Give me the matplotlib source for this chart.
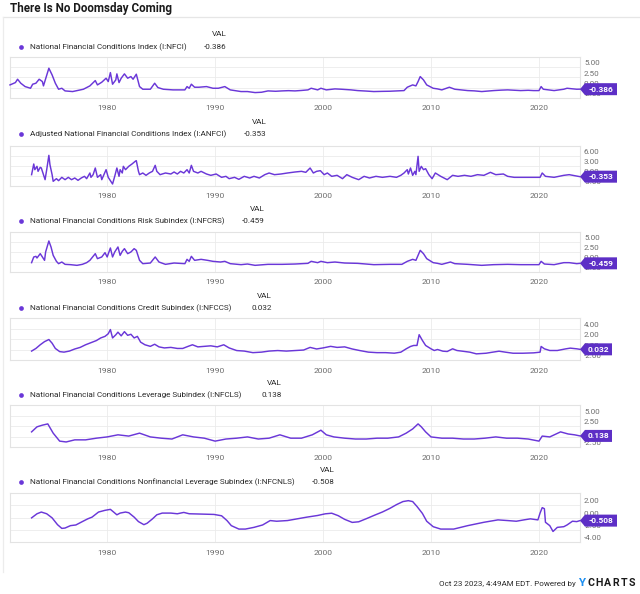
import matplotlib
matplotlib.use('Agg')
import matplotlib.pyplot as plt
import matplotlib.transforms as mtransforms
from matplotlib.patches import Polygon
from matplotlib.lines import Line2D

plt.rcParams['font.family'] = ['Roboto', 'DejaVu Sans']

TITLE = 'There Is No Doomsday Coming'
FOOTER = 'Oct 23 2023, 4:49AM EDT. Powered by'
YEAR_TICKS = [1980, 1990, 2000, 2010, 2020]
X_MIN, X_MAX = 1971.0, 2023.8

# ---------------- data (decimal years, index values) ----------------
nfci_name = 'National Financial Conditions Index (I:NFCI)'
nfci_last = '-0.386'
nfci_x = [1971.0, 1971.5, 1971.7, 1972.0, 1972.4, 1972.9, 1973.1, 1973.4, 1973.7, 1974.0,
          1974.1, 1974.6, 1974.9, 1975.2, 1975.5, 1975.8, 1976.1, 1976.8, 1977.8, 1978.4,
          1978.9, 1979.1, 1979.5, 1979.9, 1980.1, 1980.3, 1980.5, 1980.8, 1980.9, 1981.1,
          1981.3, 1981.6, 1981.9, 1982.2, 1982.4, 1982.7, 1983.0, 1983.3, 1984.0, 1984.4,
          1984.7, 1985.2, 1986.1, 1987.2, 1987.4, 1987.6, 1987.8, 1988.1, 1988.5, 1989.2,
          1989.8, 1990.3, 1990.9, 1991.4, 1992.4, 1993.0, 1993.7, 1994.3, 1994.9, 1995.6,
          1996.2, 1996.8, 1997.4, 1998.0, 1998.6, 1998.9, 1999.5, 1999.8, 2000.3, 2001.1,
          2001.7, 2002.6, 2003.2, 2004.0, 2004.7, 2005.5, 2006.2, 2007.5, 2007.8, 2008.3,
          2008.6, 2008.8, 2009.0, 2009.3, 2009.6, 2010.2, 2010.6, 2011.0, 2011.7, 2012.2,
          2013.4, 2014.0, 2014.7, 2015.8, 2016.5, 2017.1, 2018.3, 2019.0, 2019.5, 2020.0,
          2020.2, 2020.4, 2021.4, 2022.3, 2022.6, 2023.1, 2023.5, 2023.8]
nfci_y = [0.66, 1.23, 2.05, 1.07, 0.25, -0.16, 0.83, 1.07, 2.05, 1.48,
          0.42, 4.75, 3.11, 1.07, -0.40, -0.16, -0.81, -0.97, -0.40, 0.42,
          1.72, 0.66, 1.32, 2.30, 1.48, 3.68, 0.83, 1.89, 3.36, 1.23,
          2.30, 3.36, 2.30, 2.70, 2.05, 3.28, 0.25, -0.40, -0.40, 1.07,
          0.01, -0.40, -0.56, -0.56, 0.25, -0.16, 0.83, 0.09, 0.09, 0.25,
          -0.16, -0.16, 0.25, -0.56, -0.97, -0.97, -1.22, -1.14, -0.81, -0.90,
          -0.81, -0.75, -0.81, -0.70, -0.56, -0.16, -0.56, -0.16, -0.56, -0.32,
          -0.40, -0.56, -0.73, -0.85, -0.97, -0.92, -0.89, -0.73, 0.09, 0.66,
          0.42, 1.48, 2.70, 1.89, 0.66, -0.16, -0.32, -0.56, 0.09, -0.40,
          -0.73, -0.80, -0.97, -0.73, -0.62, -0.56, -0.73, -0.66, -0.73, -0.73,
          0.25, -0.40, -0.73, -0.40, -0.16, -0.30, -0.40, -0.386]

anfci_name = 'Adjusted National Financial Conditions Index (I:ANFCI)'
anfci_last = '-0.353'
anfci_x = [1973.0, 1973.2, 1973.3, 1973.5, 1973.6, 1973.8, 1973.9, 1974.1, 1974.25, 1974.4,
           1974.6, 1974.7, 1974.9, 1975.0, 1975.3, 1975.5, 1975.8, 1976.1, 1976.4, 1976.7,
           1977.0, 1977.3, 1977.6, 1977.9, 1978.1, 1978.4, 1978.5, 1978.7, 1978.9, 1979.1,
           1979.4, 1979.5, 1979.7, 1979.9, 1980.1, 1980.3, 1980.5, 1980.7, 1980.9, 1981.1,
           1981.2, 1981.4, 1981.5, 1981.7, 1982.0, 1982.3, 1982.6, 1982.7, 1982.9, 1983.0,
           1983.3, 1983.6, 1983.9, 1984.2, 1984.45, 1984.6, 1984.9, 1985.4, 1985.9, 1986.2,
           1986.5, 1986.8, 1987.1, 1987.4, 1987.6, 1987.8, 1988.0, 1988.4, 1988.7, 1989.2,
           1989.6, 1990.1, 1990.6, 1991.0, 1991.3, 1991.8, 1992.2, 1992.7, 1993.2, 1993.6,
           1994.1, 1994.6, 1995.0, 1995.5, 1996.1, 1996.7, 1997.4, 1998.0, 1998.4, 1998.8,
           1999.1, 1999.4, 1999.75, 2000.1, 2000.4, 2000.8, 2001.3, 2001.8, 2002.2, 2002.7,
           2003.3, 2003.8, 2004.3, 2004.9, 2005.5, 2006.2, 2006.8, 2007.2, 2007.5, 2007.8,
           2007.9, 2008.1, 2008.3, 2008.5, 2008.6, 2008.8, 2008.9, 2009.1, 2009.3, 2009.5,
           2009.8, 2010.1, 2010.4, 2010.9, 2011.5, 2012.0, 2012.5, 2013.1, 2013.7, 2014.3,
           2014.9, 2015.5, 2016.0, 2016.7, 2017.1, 2017.7, 2018.7, 2019.6, 2020.1, 2020.3,
           2020.6, 2021.4, 2022.3, 2022.8, 2023.6, 2023.8]
anfci_y = [0.25, 3.45, 1.75, 2.75, 1.25, 2.45, 2.25, 0.25, -1.25, 1.75,
           6.05, 3.25, 0.25, -1.75, -0.95, -1.55, -0.55, -1.25, -0.55, -1.25,
           -0.75, -1.45, -0.75, -0.25, -0.95, 0.75, -0.55, 0.25, 2.25, -0.55,
           0.25, -1.25, 0.25, 1.75, -0.55, -1.55, -2.55, -0.25, 2.25, -0.25,
           1.75, 0.75, 2.75, 1.75, 2.75, 3.45, 4.25, 4.45, 1.25, 0.25,
           0.75, 0.05, 0.75, 1.25, 3.05, 1.25, 0.25, 0.75, 0.45, 1.05,
           0.45, 1.25, 0.75, 1.75, 0.75, 3.05, 1.25, 0.75, 1.25, 0.45,
           0.05, 0.45, -0.55, -0.25, -0.95, -0.55, -1.15, -0.25, -0.75, -0.25,
           -0.75, 0.25, 0.75, 0.25, 0.45, 0.75, 1.05, 1.25, 0.95, 2.25,
           0.75, 1.25, 1.45, 0.25, 0.75, -0.25, 0.05, -0.95, 0.25, -0.55,
           -1.25, -0.25, -0.75, -0.25, -0.55, -0.25, -0.55, 0.05, 0.75, 1.75,
           0.45, 2.25, 0.05, 1.25, 0.25, 5.75, 1.25, 2.75, 1.75, 2.05,
           0.25, -0.95, 0.75, -0.25, -1.25, 0.05, -0.25, 0.05, -0.25, 0.25,
           0.05, 0.95, 0.25, 0.45, -0.25, -0.55, -0.55, -0.55, -0.55, 0.75,
           -0.25, -0.55, 0.05, 0.25, -0.25, -0.353]

nfcrs_name = 'National Financial Conditions Risk Subindex (I:NFCRS)'
nfcrs_last = '-0.459'
nfcrs_x = [1973.0, 1973.2, 1973.4, 1973.5, 1973.8, 1974.0, 1974.2, 1974.3, 1974.6, 1974.8,
           1975.0, 1975.3, 1975.5, 1975.8, 1976.1, 1976.6, 1977.2, 1977.7, 1978.1, 1978.4,
           1978.9, 1979.1, 1979.5, 1979.8, 1980.0, 1980.3, 1980.5, 1980.7, 1981.0, 1981.2,
           1981.4, 1981.6, 1981.9, 1982.2, 1982.5, 1982.7, 1983.0, 1983.3, 1984.0, 1984.45,
           1984.8, 1985.4, 1986.2, 1987.2, 1987.4, 1987.6, 1987.8, 1988.1, 1988.7, 1989.3,
           1989.8, 1990.5, 1990.9, 1991.4, 1992.4, 1993.0, 1993.7, 1994.9, 1996.2, 1997.4,
           1998.6, 1998.9, 1999.5, 1999.8, 2000.4, 2001.1, 2002.0, 2003.2, 2004.7, 2006.2,
           2007.3, 2007.8, 2008.3, 2008.6, 2008.8, 2009.0, 2009.3, 2009.6, 2010.2, 2010.6,
           2011.0, 2011.8, 2012.2, 2013.4, 2014.7, 2015.8, 2017.1, 2018.3, 2019.5, 2020.0,
           2020.2, 2020.5, 2021.4, 2022.3, 2022.8, 2023.5, 2023.8]
nfcrs_y = [-0.29, 1.13, 1.29, 0.88, 1.96, 1.13, 0.29, 2.38, 5.13, 3.63,
           1.54, 0.04, -0.54, -0.13, -0.71, -0.79, -0.96, -0.71, -0.29, 0.29,
           1.96, 0.71, 1.13, 2.21, 1.13, 3.38, 1.13, 2.38, 3.63, 1.54,
           2.54, 3.21, 1.96, 2.38, 3.21, 2.79, 0.29, -0.54, -0.38, 1.13,
           -0.13, -0.71, -0.38, -0.54, 0.54, 0.04, 1.29, 0.29, 0.54, 0.29,
           0.04, -0.13, 0.04, -0.54, -0.79, -0.63, -0.96, -0.71, -0.71, -0.63,
           -0.46, 0.04, -0.29, 0.04, -0.29, -0.13, -0.38, -0.46, -0.79, -0.71,
           -0.71, 0.04, 0.54, 0.29, 1.54, 2.79, 1.96, 0.71, -0.29, -0.46,
           -0.71, -0.13, -0.54, -0.71, -0.96, -0.79, -0.71, -0.79, -0.79, -0.79,
           0.04, -0.63, -0.79, -0.29, -0.29, -0.54, -0.459]

nfccs_name = 'National Financial Conditions Credit Subindex (I:NFCCS)'
nfccs_last = '0.032'
nfccs_x = [1973.0, 1973.4, 1973.8, 1974.2, 1974.6, 1974.9, 1975.2, 1975.6, 1976.0, 1976.5,
           1977.0, 1977.5, 1978.0, 1978.5, 1979.0, 1979.4, 1979.8, 1980.1, 1980.3, 1980.5,
           1980.8, 1981.0, 1981.3, 1981.6, 1981.9, 1982.2, 1982.5, 1982.8, 1983.1, 1983.5,
           1984.0, 1984.4, 1984.8, 1985.3, 1985.9, 1986.5, 1987.0, 1987.5, 1987.9, 1988.4,
           1989.0, 1989.6, 1990.2, 1990.8, 1991.3, 1992.0, 1992.7, 1993.5, 1994.3, 1995.0,
           1995.8, 1996.6, 1997.4, 1998.2, 1998.8, 1999.4, 2000.0, 2000.7, 2001.3, 2002.0,
           2002.7, 2003.4, 2004.2, 2005.0, 2005.8, 2006.6, 2007.2, 2007.7, 2008.1, 2008.4,
           2008.7, 2008.9, 2009.2, 2009.5, 2010.0, 2010.3, 2010.6, 2011.1, 2011.5, 2012.0,
           2012.4, 2012.9, 2013.6, 2014.2, 2015.1, 2015.7, 2016.3, 2016.9, 2017.6, 2018.5,
           2019.5, 2020.1, 2020.2, 2020.5, 2021.0, 2021.7, 2022.5, 2022.9, 2023.5, 2023.8]
nfccs_y = [-0.3, 0.2, 0.9, 1.5, 1.9, 1.2, 0.2, -0.4, -0.5, -0.3,
           0.1, 0.4, 0.9, 1.3, 1.7, 2.2, 2.5, 3.0, 3.8, 2.2,
           2.8, 3.3, 2.6, 3.4, 2.7, 2.9, 2.2, 2.5, 1.4, 0.9,
           0.6, 1.0, 0.5, 0.3, 0.4, 0.2, 0.2, 0.6, 0.9, 0.5,
           0.6, 0.7, 0.5, 0.9, 0.3, -0.2, -0.3, -0.6, -0.5, -0.3,
           -0.2, -0.3, -0.2, -0.1, 0.4, 0.1, 0.3, 0.6, 0.4, 0.5,
           0.1, -0.2, -0.5, -0.6, -0.6, -0.7, -0.51, 0.13, 0.58, 0.77,
           0.77, 2.82, 1.73, 0.77, 0.13, -0.19, 0.0, -0.32, -0.38, 0.13,
           -0.19, -0.32, -0.51, -0.83, -0.71, -0.51, -0.32, -0.51, -0.71, -0.71,
           -0.64, -0.51, 0.58, 0.13, -0.19, -0.19, 0.13, 0.26, 0.13, 0.032]

nfcls_name = 'National Financial Conditions Leverage Subindex (I:NFCLS)'
nfcls_last = '0.138'
nfcls_x = [1973.0, 1973.5, 1974.0, 1974.5, 1975.0, 1975.6, 1976.2, 1977.0, 1978.0, 1979.0,
           1980.0, 1981.0, 1982.0, 1983.0, 1984.0, 1985.0, 1986.0, 1987.0, 1988.0, 1989.0,
           1990.0, 1991.0, 1992.0, 1993.0, 1994.0, 1995.0, 1996.0, 1997.0, 1998.0, 1999.0,
           1999.8, 2000.3, 2001.0, 2002.0, 2003.0, 2004.0, 2005.0, 2006.0, 2007.0, 2007.7,
           2008.3, 2008.8, 2009.1, 2009.5, 2010.0, 2011.0, 2012.0, 2013.0, 2014.0, 2015.0,
           2016.0, 2017.0, 2018.0, 2019.0, 2020.0, 2020.3, 2021.0, 2022.0, 2022.7, 2023.3,
           2023.8]
nfcls_y = [1.1, 2.3, 2.7, 3.0, 0.8, -1.1, -1.3, -0.8, -0.8, -0.4,
           -0.1, 0.4, 0.1, 0.8, -0.1, -0.4, -0.6, 0.4, -0.1, -0.4,
           -1.1, -0.6, -0.4, -0.1, -0.6, -0.4, 0.4, -0.4, -0.4, 0.4,
           1.5, 0.4, -0.1, -0.4, -0.6, -0.6, -0.4, -0.4, -0.1, 0.8,
           1.8, 3.0, 2.3, 1.1, -0.1, -0.4, -0.4, -0.6, -0.6, -0.4,
           -0.1, -0.4, -0.4, -0.6, -1.1, 0.1, -0.1, 1.1, 0.6, 0.4,
           0.138]

nfcnls_name = 'National Financial Conditions Nonfinancial Leverage Subindex (I:NFCNLS)'
nfcnls_last = '-0.508'
nfcnls_x = [1973.0, 1973.5, 1973.9, 1974.4, 1974.9, 1975.4, 1975.8, 1976.1, 1976.6, 1977.1,
            1977.7, 1978.2, 1978.6, 1979.2, 1979.8, 1980.3, 1980.6, 1980.9, 1981.2, 1981.7,
            1982.0, 1982.5, 1982.9, 1983.4, 1983.7, 1984.2, 1984.6, 1985.1, 1985.9, 1986.5,
            1987.1, 1987.6, 1988.7, 1989.9, 1990.6, 1991.1, 1991.5, 1992.2, 1992.8, 1993.6,
            1994.4, 1995.1, 1995.7, 1996.7, 1997.6, 1998.5, 1999.5, 2000.2, 2000.8, 2001.4,
            2002.0, 2002.7, 2003.3, 2004.0, 2004.8, 2005.5, 2006.2, 2006.8, 2007.4, 2007.9,
            2008.3, 2008.7, 2009.2, 2009.6, 2010.2, 2010.9, 2012.1, 2013.4, 2014.9, 2016.2,
            2017.1, 2017.9, 2018.6, 2019.2, 2019.9, 2020.1, 2020.3, 2020.5, 2020.6, 2021.0,
            2021.3, 2021.7, 2022.3, 2022.6, 2023.1, 2023.5, 2023.8]
nfcnls_y = [-0.06, 0.61, 0.89, 0.61, -0.06, -1.17, -1.78, -1.72, -1.33, -1.22,
            -0.67, -0.22, 0.06, 0.89, 1.17, 1.33, 0.89, 0.44, 0.72, 0.89,
            0.78, 0.06, -0.67, -1.17, -0.94, -0.22, 0.44, 0.72, 0.72, 0.61,
            0.83, 0.61, 0.56, 0.50, 0.28, -0.50, -1.33, -1.89, -1.89, -1.61,
            -1.22, -0.50, -0.61, -0.50, -0.22, 0.06, 0.33, 0.60, 0.70, 0.30,
            -0.30, -0.80, -0.70, -0.20, 0.40, 0.90, 1.50, 2.10, 2.60, 2.75,
            2.60, 1.80, 0.67, -0.61, -1.50, -1.89, -1.89, -1.33, -0.78, -0.39,
            -0.50, -0.61, -0.39, -0.22, -0.39, 0.72, 1.61, 1.44, -0.78, -1.33,
            -2.28, -1.61, -1.50, -1.22, -0.61, -0.67, -0.508]

# ---------------- styling / layout ----------------
W, H = 640, 594
LINE = '#6a37d8'
FLAG = '#5d2fc6'
GRID = '#ebebeb'
FRAME = '#e3e3e3'
TXT = '#2b2b2b'
TICK = '#6e6e6e'
FS_LEG = 5.9
FS_TICK = 6.1
FS_YTICK = 5.8

fig = plt.figure(figsize=(W / 100, H / 100), dpi=100)
fig.patch.set_facecolor('white')


def fx(x):
    return x / W


def fy(y):
    return 1 - y / H


# title, separator and left rule
fig.text(fx(10), fy(8.5), TITLE, fontsize=8.4, fontweight='bold', color='#1a1a1a',
         ha='left', va='center')
fig.add_artist(Line2D([fx(3), fx(640)], [fy(17), fy(17)], color='#e6e6e6', lw=0.9))
fig.add_artist(Line2D([fx(3), fx(3)], [fy(17), fy(572)], color='#ececec', lw=0.9))

panels = [
    (nfci_name, nfci_last, nfci_x, nfci_y, (-2.5, 7.5), [-2.5, 0, 2.5, 5], 57, 97.8, 47, 34),
    (anfci_name, anfci_last, anfci_x, anfci_y, (-3, 9), [-3, 0, 3, 6], 145.5, 185.5, 134, 122),
    (nfcrs_name, nfcrs_last, nfcrs_x, nfcrs_y, (-2.5, 7.5), [-2.5, 0, 2.5, 5], 231.5, 271.5, 221, 209),
    (nfccs_name, nfccs_last, nfccs_x, nfccs_y, (-2, 6), [-2, 0, 2, 4], 318, 360, 308, 296),
    (nfcls_name, nfcls_last, nfcls_x, nfcls_y, (-2.5, 7.5), [-2.5, 0, 2.5, 5], 405, 447, 395, 383),
    (nfcnls_name, nfcnls_last, nfcnls_x, nfcnls_y, (-4, 4), [-4, -2, 0, 2], 493, 542, 482, 470),
]

renderer = fig.canvas.get_renderer()
LEFT, RIGHT = 10, 580

for name, last, xs, ys, ylim, yticks, top, bot, row_y, val_y in panels:
    ax = fig.add_axes([fx(LEFT), fy(bot), (RIGHT - LEFT) / W, (bot - top) / H])
    ax.set_xlim(X_MIN, X_MAX)
    ax.set_ylim(*ylim)
    for s in ax.spines.values():
        s.set_color(FRAME)
        s.set_linewidth(0.8)
    ax.set_xticks(YEAR_TICKS)
    ax.set_xticklabels([str(t) for t in YEAR_TICKS])
    ax.set_yticks(yticks)
    ax.set_yticklabels([])
    ax.tick_params(axis='x', length=0, pad=5.5, labelsize=FS_TICK, labelcolor=TICK)
    ax.tick_params(axis='y', length=0)
    ax.grid(True, color=GRID, lw=0.6)
    ax.set_axisbelow(True)
    ax.plot(xs, ys, color=LINE, lw=1.05, solid_joinstyle='round', clip_on=False, zorder=3)

    blend = mtransforms.blended_transform_factory(ax.transAxes, ax.transData)
    for t in yticks:
        ax.text(1.0, t, f'{t:.2f}', transform=blend + mtransforms.Affine2D().translate(4, 0.8),
                ha='left', va='bottom', fontsize=FS_YTICK, color=TICK, clip_on=False)

    # value flag at the right edge
    last_v = float(last)
    x0, y0 = ax.transData.transform((X_MAX, last_v))
    wbox = 37 if last.startswith('-') else 32
    poly = Polygon([(x0, y0), (x0 + 5, y0 + 6), (x0 + wbox, y0 + 6), (x0 + wbox, y0 - 6),
                    (x0 + 5, y0 - 6)], closed=True, facecolor=FLAG, edgecolor='none',
                   transform=mtransforms.IdentityTransform(), zorder=10)
    fig.add_artist(poly)
    fig.text((x0 + 5 + (wbox - 5) / 2) / W, y0 / H, last, fontsize=6.0, fontweight='bold',
             color='white', ha='center', va='center', zorder=11)

    # legend row
    fig.add_artist(Line2D([fx(21)], [fy(row_y)], marker='o', markersize=3.4, color=LINE,
                          markeredgewidth=0, linestyle='none'))
    lab = fig.text(fx(30), fy(row_y), name, fontsize=FS_LEG, color=TXT, ha='left', va='center')
    ext = lab.get_window_extent(renderer=renderer)
    xr = ext.x1 + 40
    fig.text(xr / W, fy(row_y), last, fontsize=FS_LEG, color=TXT, ha='right', va='center')
    fig.text(xr / W, fy(val_y), 'VAL', fontsize=FS_LEG, color=TXT, ha='right', va='center')

# footer
fig.text(fx(576), fy(584), FOOTER, fontsize=5.8, color=TXT, ha='right', va='center')
fig.text(fx(578), fy(583.5), 'Y', fontsize=8.2, fontweight='bold', color='#1e8ff0',
         ha='left', va='center')
for i, ch in enumerate('CHARTS'):
    fig.text(fx(587.5 + i * 8.2), fy(583.5), ch, fontsize=7.6, fontweight='bold',
             color='#1a1a1a', ha='left', va='center')

fig.savefig('out.png', dpi=100, facecolor='white')
